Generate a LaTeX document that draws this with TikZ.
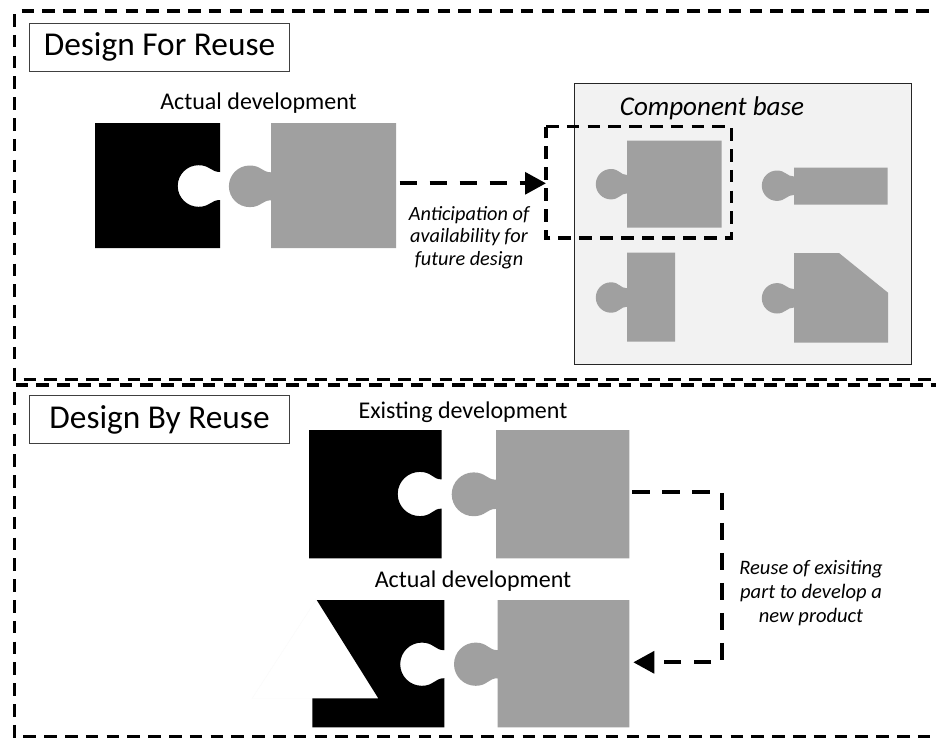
\documentclass[tikz,border=0pt]{standalone}
\usepackage{fontspec}
\setmainfont{Carlito}
\usetikzlibrary{arrows.meta}
\definecolor{pieceg}{HTML}{A0A0A0}
\definecolor{basefill}{HTML}{F2F2F2}
\tikzset{
  grayp/.style={fill=pieceg},
  blackp/.style={fill=black},
  outerdash/.style={draw=black,line width=2.3pt,dash pattern=on 9.5pt off 6.1pt},
  innerdash/.style={draw=black,line width=2.4pt,dash pattern=on 9.5pt off 6.1pt},
  flow/.style={draw=black,line width=3pt,dash pattern=on 13pt off 9.5pt,-{Triangle[length=15.75pt,width=16.3pt]}},
  titlebox/.style={draw=black!75,line width=.75pt,fill=white,minimum width=195pt,inner sep=0pt,font=\fontsize{25}{29}\selectfont},
  caption/.style={font=\fontsize{18}{22}\selectfont,inner sep=0pt},
  note/.style={font=\fontsize{15.2}{17}\selectfont\itshape,align=center,inner sep=0pt},
}
% nx, cy, cx, r, nh : tab from (nx,cy-nh) to (nx,cy+nh)
\newcommand\setknob[5]{%
  \pgfmathsetmacro\kax{#3+.55*#4}%
  \pgfmathsetmacro\kbx{#1-.42*(#1-#3)}%
  \pgfmathsetmacro\ktop{#2-#4}%
  \pgfmathsetmacro\kbot{#2+#4}%
  \pgfmathsetmacro\knt{#2-#5}%
  \pgfmathsetmacro\knb{#2+#5}%
  \edef\kn{.. controls (\kbx,\knt) and (\kax,\ktop) .. (#3,\ktop) arc[start angle=-90,end angle=-270,radius=#4] .. controls (\kax,\kbot) and (\kbx,\knb) .. (#1,\knb)}%
}
\begin{document}
\begin{tikzpicture}[x=.75pt,y=-.75pt]
\useasboundingbox (0,0) rectangle (936,739);
\fill[white] (0,0) rectangle (936,739);

% component base
\node[draw=black!85,line width=.75pt,fill=basefill,minimum width=253pt,minimum height=210.75pt,inner sep=0pt] (base) at (743.2,223.5) {};
\node[caption,font=\fontsize{20.3}{24}\selectfont\itshape] (basetxt) at (712,108) {Component base};

% top pieces
\setknob{220}{186}{198.5}{20.8}{14}
\fill[blackp] (95,123) -- (220,123) -- (220,172) \kn -- (220,248) -- (95,248) -- cycle;
\setknob{271}{186.3}{249.7}{20.8}{14}
\fill[grayp] (271,123) -- (271,172.3) \kn -- (271,248) -- (396,248) -- (396,123) -- cycle;

\setknob{627}{184.2}{611}{15.2}{9.2}
\fill[grayp] (627,140.7) -- (627,175) \kn -- (627,227.7) -- (721.7,227.7) -- (721.7,140.7) -- cycle;
\setknob{794}{185.7}{777}{15.2}{9.2}
\fill[grayp] (794,167.7) -- (794,176.5) \kn -- (794,204.7) -- (887.7,204.7) -- (887.7,167.7) -- cycle;
\setknob{627}{297.5}{611}{15.2}{9.2}
\fill[grayp] (627,252.7) -- (627,288.3) \kn -- (627,341.7) -- (675,341.7) -- (675,252.7) -- cycle;
\setknob{794}{298.3}{777}{15.2}{9.2}
\fill[grayp] (794,253) -- (794,289.1) \kn -- (794,342.7) -- (888,342.7) -- (888,292.7) -- (839,253) -- cycle;

% lower pieces, existing
\setknob{441.7}{494}{419.8}{22.1}{14.6}
\fill[blackp] (309,430) -- (441.7,430) -- (441.7,479.4) \kn -- (441.7,558.3) -- (309,558.3) -- cycle;
\setknob{496}{494.3}{473.6}{21.9}{14.6}
\fill[grayp] (496,430) -- (496,479.7) \kn -- (496,558.3) -- (629.3,558.3) -- (629.3,430) -- cycle;

% lower pieces, actual
\draw[line width=.3pt,color=black!2] (316,600) -- (252,698.5) -- (312,698.5);
\setknob{444.3}{664.2}{421.8}{21.6}{14}
\fill[blackp] (316.7,600) -- (444.3,600) -- (444.3,650.2) \kn -- (444.3,727.3) -- (312.3,727.3) -- (312.3,698.3) -- (378.3,698.3) -- cycle;
\setknob{497.7}{664.2}{475.6}{21.6}{14}
\fill[grayp] (497.7,600) -- (497.7,650.2) \kn -- (497.7,727.3) -- (629.3,727.3) -- (629.3,600) -- cycle;

% outer dashed frames
\coordinate (ftl) at (14.5,14);
\coordinate (ftr) at (936,11);
\coordinate (fta) at (21.5,11);
\coordinate (fbl) at (14.5,379.3);
\coordinate (fbr) at (936,379.3);
\draw[outerdash] (fta) -- (ftr);
\draw[outerdash] (ftl) -- (fbl) -- (fbr);
\coordinate (gtl) at (15.5,385);
\coordinate (gtr) at (936,385);
\coordinate (gs) at (14.5,392);
\coordinate (gbl) at (14.5,736.7);
\coordinate (gbr) at (936,736.7);
\draw[outerdash] (gtl) -- (gtr);
\draw[outerdash] (gs) -- (gbl) -- (gbr);

% title boxes
\node[titlebox,minimum height=35.6pt] (t1) at (159.5,47.3) {Design For Reuse};
\node[titlebox,minimum height=35.6pt] (t2) at (159.5,419.5) {Design By Reuse};

% captions
\node[caption] (c1) at (258.5,103) {Actual development};
\node[caption] (c2) at (463,412) {Existing development};
\node[caption] (c3) at (473,581.5) {Actual development};

% highlighted component
\coordinate (htl) at (546,126.7);
\coordinate (htr) at (731.7,126.7);
\coordinate (hbr) at (731.7,238);
\coordinate (hbl) at (546,238);
\draw[innerdash] (htl) -- (htr) -- (hbr) -- (hbl) -- cycle;

% connectors
\coordinate (u1) at (399.5,183.3);
\draw[flow] (u1) -- (u1 -| htl);
\coordinate (l1) at (632.3,492.3);
\coordinate (l2) at (721.7,492.3);
\coordinate (l3) at (721.7,662.3);
\coordinate (l4) at (633.3,662.3);
\draw[flow] (l1) -- (l2) -- (l3) -- (l4);

% notes
\node[note] (n1) at (469,237.5) {Anticipation of\\availability for\\future design};
\node[note,font=\fontsize{15.4}{18}\selectfont\itshape] (n2) at (811,593) {Reuse of exisiting\\part to develop a\\new product};
\end{tikzpicture}
\end{document}
